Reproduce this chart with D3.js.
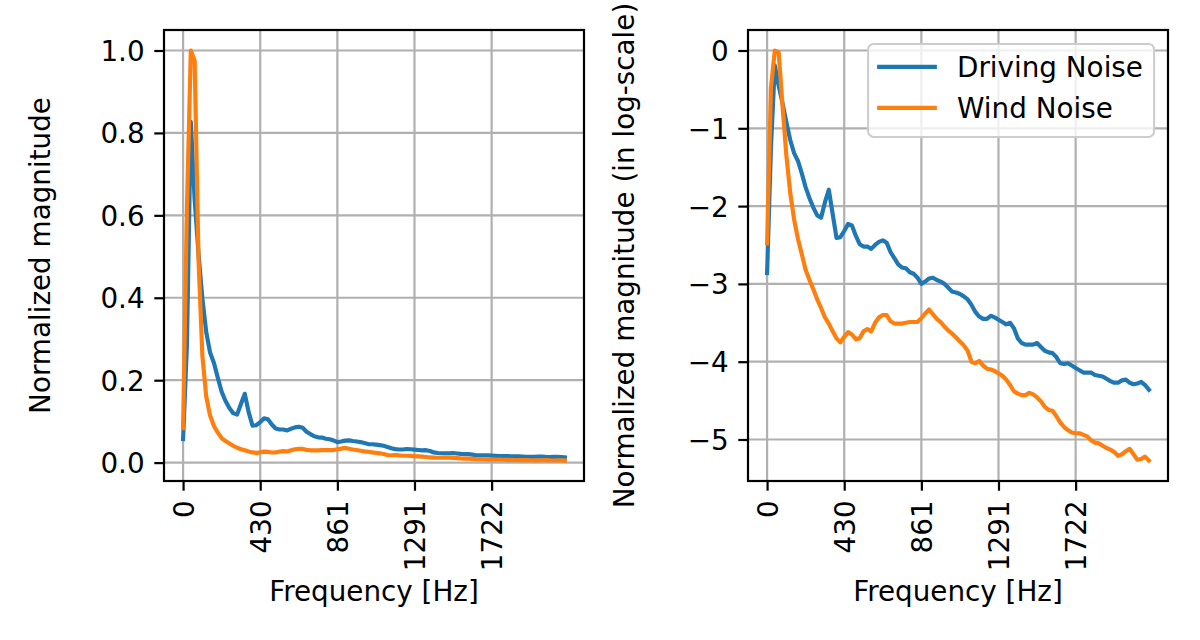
<!DOCTYPE html>
<html>
<head>
<meta charset="utf-8">
<script src="https://cdnjs.cloudflare.com/ajax/libs/d3/7.8.5/d3.min.js"></script>
<style>
body { margin: 0; background: #fff; }
svg text { font-family: "DejaVu Sans", sans-serif; }
</style>
</head>
<body>
<div id="chart"></div>
<script>
// spectrum bins 0..99 (each bin is 22050/1024 Hz)
var bins = d3.range(100);
var xTickBins = [0, 20, 40, 60, 80];
var xTickLabels = ["0", "430", "861", "1291", "1722"];

// natural log of the normalized magnitude
var logDriving = [
    -2.86, -1.25, -0.19, -0.45, -0.68, -0.92, -1.15, -1.32, -1.42, -1.58,
    -1.76, -1.90, -2.02, -2.12, -2.15, -1.95, -1.79, -2.10, -2.41, -2.40,
    -2.32, -2.23, -2.25, -2.38, -2.49, -2.52, -2.52, -2.55, -2.50, -2.46,
    -2.44, -2.47, -2.59, -2.67, -2.75, -2.79, -2.80, -2.85, -2.87, -2.92,
    -3.00, -2.97, -2.93, -2.92, -2.95, -2.97, -3.00, -3.05, -3.10, -3.11,
    -3.13, -3.16, -3.20, -3.27, -3.36, -3.42, -3.45, -3.45, -3.41, -3.43,
    -3.46, -3.49, -3.52, -3.50, -3.57, -3.70, -3.76, -3.78, -3.78, -3.78,
    -3.76, -3.81, -3.86, -3.88, -3.89, -3.94, -4.02, -4.03, -4.02, -4.05,
    -4.08, -4.11, -4.14, -4.14, -4.14, -4.17, -4.18, -4.19, -4.22, -4.25,
    -4.27, -4.27, -4.24, -4.23, -4.27, -4.29, -4.28, -4.26, -4.30, -4.36
];
var logWind = [
    -2.48, -0.48, 0.00, -0.025, -0.71, -1.35, -1.83, -2.17, -2.42, -2.62,
    -2.82, -2.95, -3.07, -3.20, -3.31, -3.43, -3.51, -3.61, -3.70, -3.75,
    -3.68, -3.62, -3.65, -3.71, -3.70, -3.61, -3.58, -3.61, -3.50, -3.43,
    -3.40, -3.40, -3.48, -3.51, -3.51, -3.51, -3.50, -3.49, -3.49, -3.49,
    -3.44, -3.38, -3.33, -3.39, -3.45, -3.49, -3.55, -3.60, -3.64, -3.69,
    -3.74, -3.79, -3.86, -4.00, -4.02, -3.99, -4.05, -4.09, -4.10, -4.12,
    -4.15, -4.18, -4.23, -4.30, -4.38, -4.41, -4.43, -4.43, -4.40, -4.42,
    -4.46, -4.51, -4.58, -4.62, -4.63, -4.70, -4.78, -4.84, -4.88, -4.91,
    -4.92, -4.92, -4.94, -4.96, -5.01, -5.04, -5.05, -5.08, -5.11, -5.13,
    -5.16, -5.21, -5.19, -5.15, -5.12, -5.19, -5.26, -5.25, -5.22, -5.27
];
var seriesNames = ["Driving Noise", "Wind Noise"];
var seriesColors = ["#1f77b4", "#ff7f0e"];

var linTicks = [0, 0.2, 0.4, 0.6, 0.8, 1.0];
var logTicks = [-5, -4, -3, -2, -1, 0];

// left panel shows the magnitude itself, right one its log
var linDriving = logDriving.map(function(v) { return Math.exp(v); });
var linWind = logWind.map(function(v) { return Math.exp(v); });

//dimensions..
var width = 1200;
var height = 640;
var fs = 27.8;
var tickLen = 9.7;
var tickPad = 9.7;
var plotTop = 30, plotBottom = 481, panelW = 420;

var svg = d3.select("#chart")
    .append("svg")
    .attr("width", width)
    .attr("height", height);

function drawPanel(id, left, series, yTicks, yFormat, yLabel, yLabelX, legend) {
    var all = d3.merge(series);
    var ext = d3.extent(all);
    var pad = (ext[1] - ext[0]) * 0.05;
    var n = bins.length - 1;

    var x = d3.scaleLinear()
        .domain([-0.05 * n, n * 1.05])
        .range([left, left + panelW]);
    var y = d3.scaleLinear()
        .domain([ext[0] - pad, ext[1] + pad])
        .range([plotBottom, plotTop]);

    var g = svg.append("g");

    svg.append("clipPath")
        .attr("id", "clip" + id)
        .append("rect")
        .attr("x", left)
        .attr("y", plotTop)
        .attr("width", panelW)
        .attr("height", plotBottom - plotTop);

    //grid
    g.selectAll(".vgrid")
        .data(xTickBins)
        .enter()
        .append("line")
        .attr("x1", function(d) { return x(d); })
        .attr("x2", function(d) { return x(d); })
        .attr("y1", plotTop)
        .attr("y2", plotBottom)
        .attr("stroke", "#b0b0b0")
        .attr("stroke-width", 2.2);
    g.selectAll(".hgrid")
        .data(yTicks)
        .enter()
        .append("line")
        .attr("x1", left)
        .attr("x2", left + panelW)
        .attr("y1", function(d) { return y(d); })
        .attr("y2", function(d) { return y(d); })
        .attr("stroke", "#b0b0b0")
        .attr("stroke-width", 2.2);

    //the curves
    var line = d3.line()
        .x(function(d, i) { return x(bins[i]); })
        .y(function(d) { return y(d); });
    series.forEach(function(s, k) {
        g.append("path")
            .attr("d", line(s))
            .attr("fill", "none")
            .attr("stroke", seriesColors[k])
            .attr("stroke-width", 4.17)
            .attr("stroke-linejoin", "round")
            .attr("stroke-linecap", "square")
            .attr("clip-path", "url(#clip" + id + ")");
    });

    //frame
    g.append("rect")
        .attr("x", left)
        .attr("y", plotTop)
        .attr("width", panelW)
        .attr("height", plotBottom - plotTop)
        .attr("fill", "none")
        .attr("stroke", "black")
        .attr("stroke-width", 2.2);

    //x axis, labels turned upright
    var xAxis = g.append("g")
        .attr("transform", "translate(0," + plotBottom + ")")
        .call(d3.axisBottom(x)
            .tickValues(xTickBins)
            .tickFormat(function(d, i) { return xTickLabels[i]; })
            .tickSize(tickLen)
            .tickPadding(tickPad));
    xAxis.select(".domain").remove();
    xAxis.selectAll("line").attr("stroke", "black").attr("stroke-width", 2.2);
    xAxis.selectAll("text")
        .attr("transform", "rotate(-90)")
        .attr("x", -(tickLen + tickPad))
        .attr("y", 0)
        .attr("dy", "0.36em")
        .attr("text-anchor", "end")
        .attr("fill", "black")
        .style("font-size", fs + "px");

    var yAxis = g.append("g")
        .attr("transform", "translate(" + left + ",0)")
        .call(d3.axisLeft(y)
            .tickValues(yTicks)
            .tickFormat(yFormat)
            .tickSize(tickLen)
            .tickPadding(tickPad));
    yAxis.select(".domain").remove();
    yAxis.selectAll("line").attr("stroke", "black").attr("stroke-width", 2.2);
    yAxis.selectAll("text")
        .attr("dy", "0.36em")
        .attr("fill", "black")
        .style("font-size", fs + "px");

    //axis titles
    g.append("text")
        .text("Frequency [Hz]")
        .attr("x", left + panelW / 2)
        .attr("y", 601)
        .attr("text-anchor", "middle")
        .style("font-size", fs + "px");
    g.append("text")
        .text(yLabel)
        .attr("transform", "translate(" + yLabelX + "," + ((plotTop + plotBottom) / 2) + ") rotate(-90)")
        .attr("text-anchor", "middle")
        .style("font-size", fs + "px");

    if (legend) {
        var lw = 286, lh = 93;
        var lx = left + panelW - 13.9 - lw;
        var ly = plotTop + 13.9;
        g.append("rect")
            .attr("x", lx)
            .attr("y", ly)
            .attr("width", lw)
            .attr("height", lh)
            .attr("rx", 5.6)
            .attr("fill", "white")
            .attr("fill-opacity", 0.8)
            .attr("stroke", "#cccccc")
            .attr("stroke-width", 2);
        seriesNames.forEach(function(name, k) {
            var ry = ly + 23 + k * 41;
            g.append("line")
                .attr("x1", lx + 11.1)
                .attr("x2", lx + 11.1 + 55.6)
                .attr("y1", ry)
                .attr("y2", ry)
                .attr("stroke", seriesColors[k])
                .attr("stroke-width", 4.17)
                .attr("stroke-linecap", "square");
            g.append("text")
                .text(name)
                .attr("x", lx + 11.1 + 55.6 + 22.2)
                .attr("y", ry)
                .attr("dy", "0.36em")
                .style("font-size", fs + "px");
        });
    }
}

drawPanel("a", 164, [linDriving, linWind], linTicks, d3.format(".1f"),
    "Normalized magnitude", 50, false);
drawPanel("b", 748, [logDriving, logWind], logTicks, d3.format("d"),
    "Normalized magnitude (in log-scale)", 634, true);
</script>
</body>
</html>
